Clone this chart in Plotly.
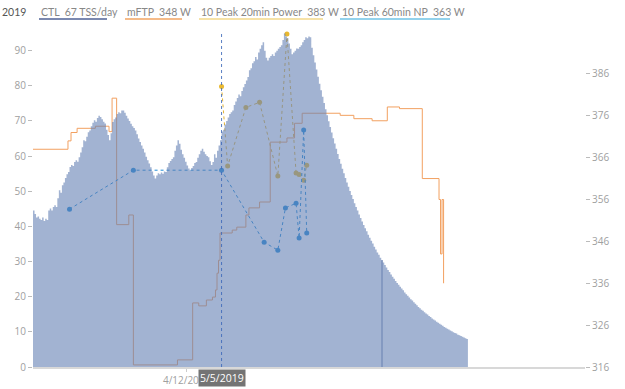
import plotly.graph_objects as go
import pandas as pd

# ---------------- data ----------------
ctl_start = "2019-01-01"
ctl = [
    44.5, 43.5, 42.5, 42.8, 42.2, 41.8, 42.5, 41.5, 42.2, 41.8,
    44.5, 45.1, 44.5, 45.5, 46.0, 45.5, 48.0, 50.3, 49.6, 51.7,
    52.5, 53.8, 54.8, 55.5, 56.9, 57.5, 57.2, 58.3, 58.8, 58.4,
    59.7, 61.0, 62.5, 64.5, 64.2, 65.5, 66.8, 67.3, 68.5, 69.5,
    70.2, 69.8, 70.8, 71.5, 71.1, 70.5, 69.8, 69.3, 67.5, 66.0,
    64.5, 66.5, 69.7, 70.5, 71.0, 72.0, 72.5, 72.2, 73.0, 73.0,
    72.3, 71.5, 70.7, 70.0, 69.2, 68.5, 68.0, 67.3, 66.2, 65.0,
    64.0, 63.0, 62.1, 61.0, 59.8, 58.8, 57.9, 56.8, 55.6, 54.5,
    53.6, 54.5, 55.1, 54.8, 55.3, 55.0, 55.6, 55.5, 56.8, 58.0,
    58.6, 59.2, 59.7, 61.5, 63.0, 64.5, 63.5, 61.8, 60.5, 59.5,
    58.4, 57.3, 56.5, 56.0, 56.6, 57.2, 58.0, 58.3, 59.5, 60.5,
    61.5, 62.1, 61.2, 60.5, 60.0, 59.7, 58.5, 57.5, 58.3, 60.5,
    59.5, 61.5, 63.0, 64.5, 67.0, 67.5, 69.0, 70.0, 71.0, 72.0,
    72.5, 73.0, 74.5, 75.5, 76.5, 77.5, 77.0, 78.5, 79.6, 80.5,
    81.5, 82.5, 84.4, 85.0, 86.4, 87.0, 88.2, 87.5, 89.5, 90.5,
    91.5, 92.4, 90.0, 88.0, 87.2, 88.0, 88.5, 89.0, 88.5, 89.5,
    90.0, 90.5, 91.0, 91.5, 93.0, 94.9, 94.0, 93.5, 92.0, 90.5,
    89.0, 89.5, 90.0, 90.6, 90.5, 91.0, 91.5, 92.4, 93.0, 93.8,
    93.5, 94.0, 93.8,
    90.8, 88.7, 86.6, 84.6, 82.6, 80.6, 78.7, 76.9, 75.1, 73.3,
    71.6, 69.9, 68.3, 66.7, 65.1, 63.6, 62.1, 60.6, 59.2, 57.8,
    56.4, 55.1, 53.8, 52.5, 51.3, 50.1, 48.9, 47.8, 46.6, 45.5,
    44.5, 43.4, 42.4, 41.4, 40.4, 39.5, 38.6, 37.6, 36.8, 35.9,
    35.1, 34.2, 33.4, 32.6, 31.9, 31.1, 30.4, 29.7, 29.0, 28.3,
    27.6, 27.0, 26.3, 25.7, 25.1, 24.5, 23.9, 23.4, 22.8, 22.3,
    21.8, 21.2, 20.7, 20.3, 19.8, 19.3, 18.9, 18.4, 18.0, 17.6,
    17.1, 16.7, 16.3, 16.0, 15.6, 15.2, 14.9, 14.5, 14.2, 13.8,
    13.5, 13.2, 12.9, 12.6, 12.3, 12.0, 11.7, 11.4, 11.2, 10.9,
    10.7, 10.4, 10.2, 9.9, 9.7, 9.5, 9.2, 9.0, 8.8, 8.6,
    8.4, 8.2, 8.0,
]
overlap_day = "2019-08-18"

mftp_dates = [
    "2019-01-01", "2019-01-24", "2019-01-26", "2019-01-30", "2019-02-11",
    "2019-02-20", "2019-02-22", "2019-02-25", "2019-03-05", "2019-03-08",
    "2019-04-06", "2019-04-16", "2019-04-20", "2019-04-25", "2019-04-29",
    "2019-05-01", "2019-05-02", "2019-05-03", "2019-05-04", "2019-05-12",
    "2019-05-15", "2019-05-21", "2019-05-23", "2019-05-30", "2019-06-06",
    "2019-06-17", "2019-06-22", "2019-06-27", "2019-07-22", "2019-07-31",
    "2019-08-12", "2019-08-22", "2019-08-30", "2019-09-14", "2019-09-25",
    "2019-09-26", "2019-09-27", "2019-09-28",
]
mftp_values = [
    368.0, 370.0, 372.0, 373.0, 373.5,
    372.2, 380.2, 350.0, 352.3, 316.5,
    317.7, 331.3, 330.6, 332.0, 332.7,
    334.4, 338.4, 341.5, 348.0, 348.7,
    349.4, 352.3, 354.0, 355.4, 369.7,
    370.7, 374.2, 376.6, 376.1, 375.3,
    374.8, 378.1, 377.7, 361.0, 356.0,
    343.0, 356.0, 336.0,
]

p20_dates = ["2019-05-05", "2019-05-09", "2019-05-21", "2019-05-30", "2019-06-11",
             "2019-06-17", "2019-06-23", "2019-06-25", "2019-06-28", "2019-06-30"]
p20_values = [383, 364, 378, 379.2, 361.6, 395.5, 362.3, 362, 360.6, 364.2]

p60_dates = ["2019-01-25", "2019-03-08", "2019-05-05", "2019-06-02", "2019-06-11",
             "2019-06-16", "2019-06-23", "2019-06-25", "2019-06-28", "2019-06-30"]
p60_values = [353.7, 363, 363, 345.8, 343.9, 354, 355.1, 346.8, 372.6, 348]

left_ticks = [0, 10, 20, 30, 40, 50, 60, 70, 80, 90]
right_ticks = [316, 326, 336, 346, 356, 366, 376, 386]
x_tick_vals = ["2019-04-12"]
x_tick_text = ["4/12/2019"]
cursor_date = "2019-05-05"
cursor_text = "5/5/2019"
title_tail = "2019"
legend_items = [
    ("CTL\u00a0\u00a067 TSS/day", "#4f6296"),
    ("mFTP\u00a0\u00a0348 W", "#f2a462"),
    ("10 Peak 20min Power\u00a0\u00a0383 W", "#f3d98a"),
    ("10 Peak 60min NP\u00a0\u00a0363 W", "#6fc3e6"),
]

# ---------------- layout geometry ----------------
W, H = 625, 389
ML, MR, MT, MB = 33, 40, 32, 22
PW = W - ML - MR
PH = H - MT - MB

def px_x(p):
    return (p - ML) / PW

def px_y(p):
    return 1 - (p - MT) / PH

# ---------------- figure ----------------
ctl_dates = pd.date_range(ctl_start, periods=len(ctl), freq="D")
area_x = list(ctl_dates) + [ctl_dates[-1] + pd.Timedelta(days=1)]
area_y = ctl + [ctl[-1]]

area_rgba = "rgba(100,128,180,0.6)"

fig = go.Figure()

fig.add_trace(go.Scatter(
    x=mftp_dates, y=mftp_values, yaxis="y", mode="lines",
    line=dict(color="#f2a060", width=1, shape="hv"),
    hoverinfo="skip", showlegend=False))

fig.add_trace(go.Scatter(
    x=p20_dates, y=p20_values, yaxis="y", mode="lines+markers",
    line=dict(color="#e3b53a", width=1, dash="dot"),
    marker=dict(color="#e8b830", size=5), cliponaxis=False,
    hoverinfo="skip", showlegend=False))

fig.add_trace(go.Scatter(
    x=p60_dates, y=p60_values, yaxis="y", mode="lines+markers",
    line=dict(color="#1f8ad6", width=1, dash="dot"),
    marker=dict(color="#1f8ad6", size=5), cliponaxis=False,
    hoverinfo="skip", showlegend=False))

fig.add_trace(go.Scatter(
    x=area_x, y=area_y, yaxis="y2", mode="lines",
    line=dict(width=0, shape="hv"), fill="tozeroy", fillcolor=area_rgba,
    hoverinfo="skip", showlegend=False))

ov_idx = (pd.Timestamp(overlap_day) - pd.Timestamp(ctl_start)).days
fig.add_trace(go.Bar(
    x=[pd.Timestamp(overlap_day) + pd.Timedelta(hours=12)], y=[ctl[ov_idx]],
    yaxis="y2", width=0.75 * 86400000,
    marker=dict(color="rgba(90,110,160,0.45)", line=dict(width=0)),
    hoverinfo="skip", showlegend=False))

shapes = [dict(type="line", xref="x", yref="paper", x0=cursor_date, x1=cursor_date,
               y0=0, y1=1, line=dict(color="rgba(60,105,185,0.85)", width=1, dash="dot"),
               layer="above")]

annotations = [dict(text=title_tail, x=px_x(0), y=px_y(12), xref="paper", yref="paper",
                    xanchor="left", yanchor="middle", showarrow=False,
                    font=dict(size=10.5, color="#555", family="Lato"))]

leg_x = [(39, 107), (125, 182), (199, 323), (340, 450)]
for (txt, col), (x0, x1) in zip(legend_items, leg_x):
    annotations.append(dict(text=txt, x=px_x(x0), y=px_y(12), xref="paper", yref="paper",
                            xanchor="left", yanchor="middle", showarrow=False,
                            font=dict(size=10.5, color="#888", family="Lato")))
    shapes.append(dict(type="line", xref="paper", yref="paper",
                       x0=px_x(x0), x1=px_x(x1), y0=px_y(19), y1=px_y(19),
                       line=dict(color=col, width=1.5)))

annotations.append(dict(text=cursor_text, x=cursor_date, y=px_y(378), xref="x", yref="paper",
                        xanchor="center", yanchor="middle", showarrow=False,
                        bgcolor="#747474", borderpad=1,
                        font=dict(size=10.5, color="white", family="Open Sans")))

tick_font = dict(size=10, color="#a0a0a0", family="Open Sans")

fig.update_layout(
    width=W, height=H,
    margin=dict(l=ML, r=MR, t=MT, b=MB, pad=0, autoexpand=False),
    paper_bgcolor="white", plot_bgcolor="white",
    showlegend=False, bargap=0,
    xaxis=dict(type="date", range=["2019-01-01", "2019-12-30"],
               tickvals=x_tick_vals, ticktext=x_tick_text,
               ticks="outside", ticklen=3, tickcolor="#cccccc",
               showgrid=False, zeroline=False, automargin=False,
               showline=True, linecolor="#d8d8d8", linewidth=2,
               tickfont=tick_font),
    yaxis=dict(side="right", range=[316, 396], tickvals=right_ticks,
               ticks="outside", ticklen=4, tickcolor="#bbbbbb",
               showgrid=False, zeroline=False, showline=False, automargin=False,
               tickfont=tick_font),
    yaxis2=dict(side="left", overlaying="y", range=[0, 95.3], tickvals=left_ticks,
                ticks="outside", ticklen=4, tickcolor="#bbbbbb",
                showgrid=False, zeroline=False, showline=False, automargin=False,
                tickfont=tick_font),
    shapes=shapes,
    annotations=annotations,
)

fig.write_html("out.html",
               config={"displayModeBar": False},
               post_script="document.body.style.margin='0';document.body.style.padding='0';")
